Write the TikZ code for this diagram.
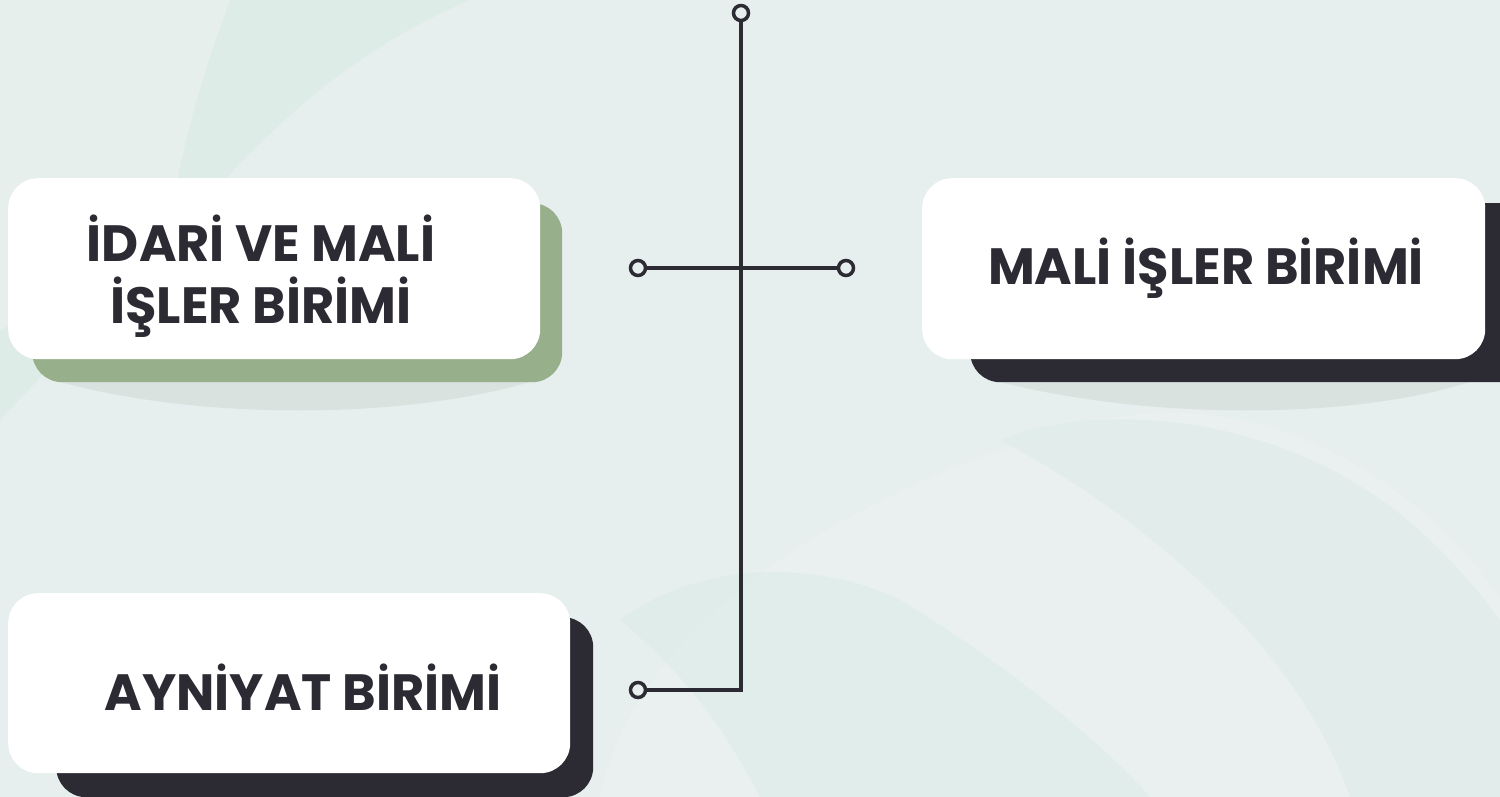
\documentclass[tikz,border=0pt]{standalone}
\usepackage{fontspec}
\setmainfont{Poppins}
\usetikzlibrary{fadings}
\definecolor{bg}{HTML}{E6EFED}
\definecolor{bgdark}{HTML}{D9EAE6}
\definecolor{bglight}{HTML}{EDF2F1}
\definecolor{ink}{HTML}{2C2B33}
\definecolor{sage}{HTML}{97AF8A}
\tikzset{
  card/.style={fill=white, rounded corners=30pt, inner sep=0pt, anchor=north west},
  backcard/.style={rounded corners=30pt, inner sep=0pt, anchor=north west},
  label/.style={font=\bfseries\fontsize{51}{62}\selectfont, text=ink, align=center},
  dot/.style={circle, draw=ink, line width=3.5pt, fill=bg, minimum size=15pt, inner sep=0pt},
  wire/.style={draw=ink, line width=3.5pt},
}
\begin{document}
\begin{tikzpicture}[x=1pt,y=-1pt]
\useasboundingbox (0,0) rectangle (1500,797);
% background
\fill[bg] (0,0) rectangle (1500,797);
\fill[bgdark, opacity=0.6] (0,0) -- (470,0) .. controls (330,60) and (250,150) .. (170,240) -- (0,420) -- cycle;
\fill[bglight, opacity=0.6] (0,0) -- (230,0) .. controls (200,80) and (180,150) .. (165,250) -- (0,330) -- cycle;
\fill[bglight, opacity=0.5] (600,797) .. controls (640,600) and (900,470) .. (1100,420) .. controls (1300,380) and (1450,520) .. (1500,600) -- (1500,797) -- cycle;
\fill[bgdark, opacity=0.45] (620,620) .. controls (700,560) and (820,560) .. (900,600) .. controls (1000,660) and (1100,740) .. (1150,797) -- (760,797) .. controls (720,720) and (680,670) .. (620,620) -- cycle;
\fill[bgdark, opacity=0.4] (1000,440) .. controls (1100,400) and (1250,420) .. (1350,480) .. controls (1420,520) and (1470,580) .. (1500,620) -- (1500,797) -- (1350,797) .. controls (1300,650) and (1150,520) .. (1000,440) -- cycle;
% soft shadows under cards
\fill[black, opacity=0.05] (60,382) .. controls (200,420) and (400,420) .. (530,382) -- cycle;
\fill[black, opacity=0.05] (1000,382) .. controls (1150,420) and (1350,420) .. (1470,382) -- cycle;
% back cards
\node[backcard, fill=sage, minimum width=530pt, minimum height=179pt] (b1) at (32,203) {};
\node[backcard, fill=ink, minimum width=560pt, minimum height=179pt] (b2) at (970,203) {};
\node[backcard, fill=ink, minimum width=537pt, minimum height=180pt] (b3) at (56,617) {};
% front cards
\node[card, minimum width=532pt, minimum height=181pt] (f1) at (8,178) {};
\node[card, minimum width=563pt, minimum height=181pt] (f2) at (922,178) {};
\node[card, minimum width=562pt, minimum height=180pt] (f3) at (8,593) {};
% labels
\node[label] (t1) at (261,276) {İDARİ VE MALİ\\İŞLER BİRİMİ};
\node[label] (t2) at (1206,268) {MALİ İŞLER BİRİMİ};
\node[label] (t3) at (303,687) {AYNİYAT BİRİMİ};
% connectors
\node[dot] (ct) at (741,13) {};
\node[dot] (cl) at (638,268) {};
\node[dot] (cr) at (846,268) {};
\node[dot] (cb) at (638,690) {};
\coordinate (corner) at (741,690);
\draw[wire] (cl) -- (cr);
\draw[wire, line join=miter] (ct) -- (corner) -- (cb);
\end{tikzpicture}
\end{document}
